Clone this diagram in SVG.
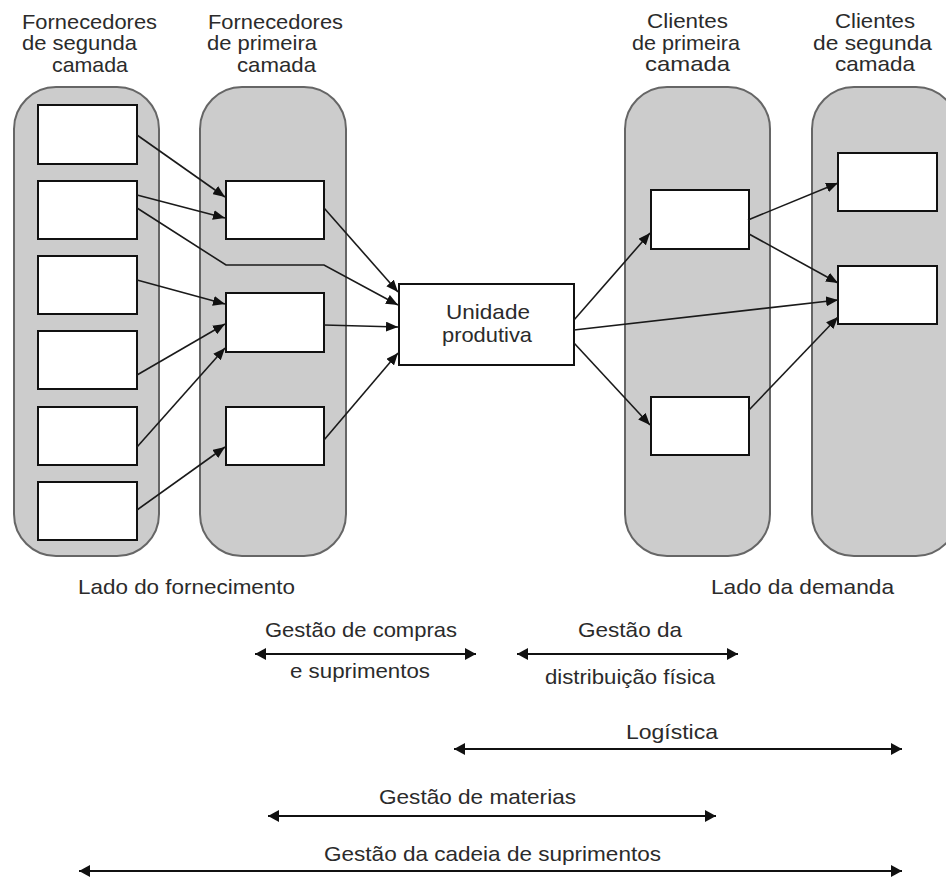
<svg xmlns="http://www.w3.org/2000/svg" width="946" height="882" viewBox="0 0 946 882">
<defs>
<marker id="ah" viewBox="0 0 12 10" refX="12" refY="5" markerWidth="12" markerHeight="10" markerUnits="userSpaceOnUse" orient="auto"><path d="M0,0 L12,5 L0,10 z" fill="#111"/></marker>
<marker id="dh" viewBox="0 0 11 12" refX="11" refY="6" markerWidth="11" markerHeight="12" markerUnits="userSpaceOnUse" orient="auto-start-reverse"><path d="M0,0 L11,6 L0,12 z" fill="#111"/></marker>
</defs>
<style>
.pill{fill:#cccccc;stroke:#666;stroke-width:2}
.box{fill:#fff;stroke:#111;stroke-width:2}
.t{font-family:"Liberation Sans",Arial,sans-serif;font-size:21px;fill:#2b2b2b}
.c{fill:none;stroke:#1a1a1a;stroke-width:1.6;marker-end:url(#ah)}
.d{fill:none;stroke:#111;stroke-width:2;marker-start:url(#dh);marker-end:url(#dh)}
</style>
<rect width="946" height="882" fill="#fff"/>
<g id="tier2-suppliers">
<rect class="pill" x="14" y="87" width="145" height="469" rx="42"/>
<text class="t" x="22" y="29" textLength="135" lengthAdjust="spacingAndGlyphs">Fornecedores</text>
<text class="t" x="22" y="50" textLength="115" lengthAdjust="spacingAndGlyphs">de segunda</text>
<text class="t" x="52" y="72" textLength="76" lengthAdjust="spacingAndGlyphs">camada</text>
<rect class="box" x="38" y="105" width="99" height="59"/>
<rect class="box" x="38" y="181" width="99" height="58"/>
<rect class="box" x="38" y="256" width="99" height="58"/>
<rect class="box" x="38" y="331" width="99" height="58"/>
<rect class="box" x="38" y="407" width="99" height="58"/>
<rect class="box" x="38" y="482" width="99" height="58"/>
</g>
<g id="tier1-suppliers">
<rect class="pill" x="200" y="87" width="146" height="469" rx="42"/>
<text class="t" x="208" y="29" textLength="135" lengthAdjust="spacingAndGlyphs">Fornecedores</text>
<text class="t" x="207" y="50" textLength="110" lengthAdjust="spacingAndGlyphs">de primeira</text>
<text class="t" x="237" y="72" textLength="79" lengthAdjust="spacingAndGlyphs">camada</text>
<rect class="box" x="226" y="181" width="98" height="58"/>
<rect class="box" x="226" y="293" width="98" height="59"/>
<rect class="box" x="226" y="407" width="98" height="58"/>
</g>
<g id="production-unit">
<rect class="box" x="399" y="284" width="175" height="81"/>
<text class="t" x="446" y="319" textLength="84" lengthAdjust="spacingAndGlyphs">Unidade</text>
<text class="t" x="442" y="342" textLength="90" lengthAdjust="spacingAndGlyphs">produtiva</text>
</g>
<g id="tier1-clients">
<rect class="pill" x="625" y="87" width="145" height="469" rx="42"/>
<text class="t" x="647" y="28" textLength="81" lengthAdjust="spacingAndGlyphs">Clientes</text>
<text class="t" x="632" y="50" textLength="108" lengthAdjust="spacingAndGlyphs">de primeira</text>
<text class="t" x="645" y="71" textLength="85" lengthAdjust="spacingAndGlyphs">camada</text>
<rect class="box" x="651" y="190" width="98" height="59"/>
<rect class="box" x="651" y="397" width="98" height="58"/>
</g>
<g id="tier2-clients">
<rect class="pill" x="812" y="87" width="146" height="469" rx="42"/>
<text class="t" x="835" y="28" textLength="80" lengthAdjust="spacingAndGlyphs">Clientes</text>
<text class="t" x="813" y="50" textLength="119" lengthAdjust="spacingAndGlyphs">de segunda</text>
<text class="t" x="835" y="71" textLength="80" lengthAdjust="spacingAndGlyphs">camada</text>
<rect class="box" x="838" y="153" width="99" height="58"/>
<rect class="box" x="838" y="266" width="99" height="58"/>
</g>
<g id="connectors">
<line class="c" x1="137" y1="135" x2="225" y2="197"/>
<line class="c" x1="137" y1="195" x2="225" y2="218"/>
<polyline class="c" points="137,208 226,265 324,265 398,305"/>
<line class="c" x1="324" y1="208" x2="398" y2="292"/>
<line class="c" x1="137" y1="280" x2="225" y2="304"/>
<line class="c" x1="137" y1="375" x2="225" y2="324"/>
<line class="c" x1="137" y1="447" x2="225" y2="348"/>
<line class="c" x1="324" y1="325" x2="398" y2="327"/>
<line class="c" x1="137" y1="510" x2="225" y2="447"/>
<line class="c" x1="324" y1="440" x2="398" y2="353"/>
<line class="c" x1="574" y1="320" x2="650" y2="233"/>
<line class="c" x1="574" y1="330" x2="838" y2="300"/>
<line class="c" x1="574" y1="343" x2="650" y2="425"/>
<line class="c" x1="748" y1="220" x2="838" y2="183"/>
<line class="c" x1="749" y1="234" x2="838" y2="283"/>
<line class="c" x1="749" y1="410" x2="838" y2="317"/>
</g>
<g id="scopes">
<text class="t" x="78" y="594" textLength="217" lengthAdjust="spacingAndGlyphs">Lado do fornecimento</text>
<text class="t" x="711" y="594" textLength="183" lengthAdjust="spacingAndGlyphs">Lado da demanda</text>
<text class="t" x="265" y="637" textLength="192" lengthAdjust="spacingAndGlyphs">Gestão de compras</text>
<line class="d" x1="255" y1="654" x2="476" y2="654"/>
<text class="t" x="290" y="678" textLength="140" lengthAdjust="spacingAndGlyphs">e suprimentos</text>
<text class="t" x="578" y="637" textLength="104" lengthAdjust="spacingAndGlyphs">Gestão da</text>
<line class="d" x1="517" y1="654" x2="738" y2="654"/>
<text class="t" x="545" y="684" textLength="170" lengthAdjust="spacingAndGlyphs">distribuição física</text>
<text class="t" x="626" y="739" textLength="92" lengthAdjust="spacingAndGlyphs">Logística</text>
<line class="d" x1="454" y1="749" x2="902" y2="749"/>
<text class="t" x="379" y="804" textLength="197" lengthAdjust="spacingAndGlyphs">Gestão de materias</text>
<line class="d" x1="268" y1="816" x2="716" y2="816"/>
<text class="t" x="324" y="861" textLength="337" lengthAdjust="spacingAndGlyphs">Gestão da cadeia de suprimentos</text>
<line class="d" x1="79" y1="871" x2="902" y2="871"/>
</g>
</svg>
